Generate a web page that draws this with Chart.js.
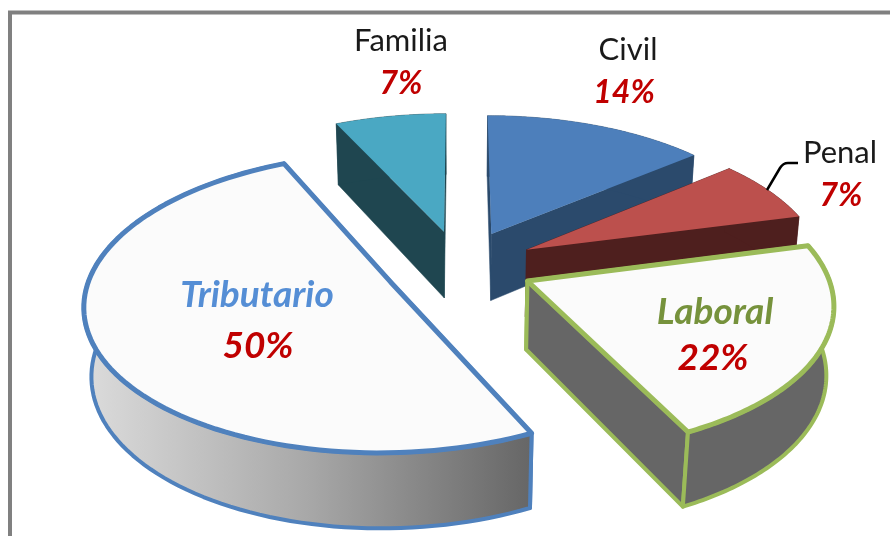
<!DOCTYPE html>
<html><head><meta charset="utf-8">
<style>html,body{margin:0;padding:0;background:#fff}canvas{display:block}</style>
<script src="https://cdn.jsdelivr.net/npm/chart.js@4"></script>
</head><body><canvas id="c" width="890" height="536"></canvas>
<script>
const categories = ['Familia','Civil','Penal','Laboral','Tributario'];
const values = [7,14,7,21.8,50.2];
const percentLabels = ['7%','14%','7%','22%','50%'];
const topColors = ['#4aa8c3','#4d7fbb','#bc504d','#fbfbfb','#fbfbfb'];
const sideColors = ['#1f4650','#2b4a6c','#4e1f1e','#666666',null];
const borderColors = ['transparent','transparent','transparent','#9bbb59','#4f81bd'];
const borderWidths = [0,0,0,5,5];
const nameColors = ['#1a1a1a','#1a1a1a','#1a1a1a','#76923c','#558ed5'];

// view of the 3D pie
const view = {cx:460, cy:266, f:1907, D:6.406, tilt:28.66*Math.PI/180, depth:0.265};
const sinT = Math.sin(view.tilt), cosT = Math.cos(view.tilt);
function project(X,Y,Z){
  const yc = Y*sinT + Z*cosT, zc = view.D + Y*cosT - Z*sinT;
  return [view.cx + view.f*X/zc, view.cy - view.f*yc/zc];
}
function pathOf(ctx,pts,close){
  ctx.beginPath();
  pts.forEach((p,i)=> i ? ctx.lineTo(p[0],p[1]) : ctx.moveTo(p[0],p[1]));
  if(close) ctx.closePath();
}
let activeChart = null;
// every arc of the pie is drawn from its own Chart.js geometry, seen through the view
Chart.ArcElement.prototype.draw = function(ctx){
  const {startAngle,endAngle,outerRadius} = this.getProps(['startAngle','endAngle','outerRadius']);
  const o = this.options, R = outerRadius;
  const i = activeChart.getDatasetMeta(0).data.indexOf(this);
  const mid = (startAngle+endAngle)/2;
  const ox = Math.cos(mid)*o.offset/R, oy = -Math.sin(mid)*o.offset/R;
  const steps = 96, top=[], bot=[];
  for(let k=0;k<=steps;k++){
    const a = startAngle+(endAngle-startAngle)*k/steps;
    const X = ox+Math.cos(a), Y = oy-Math.sin(a);
    top.push(project(X,Y,0)); bot.push(project(X,Y,-view.depth));
  }
  const t0 = project(ox,oy,0), b0 = project(ox,oy,-view.depth);
  const bw = o.borderWidth;
  let side = sideColors[i];
  if(!side){
    const xs = top.concat(bot).map(p=>p[0]);
    const g = ctx.createLinearGradient(Math.min(...xs),0,top[0][0],0);
    g.addColorStop(0,'#dcdcdc'); g.addColorStop(0.5,'#a8a8a8'); g.addColorStop(1,'#666666');
    side = g;
  }
  ctx.save();
  ctx.lineJoin='round';
  const face = (pts)=>{
    pathOf(ctx,pts,true);
    ctx.fillStyle=side; ctx.fill();
    if(bw){ctx.strokeStyle=o.borderColor; ctx.lineWidth=bw*0.8; ctx.stroke();}
    else {ctx.strokeStyle=side; ctx.lineWidth=0.5; ctx.stroke();}
  };
  face([t0,top[0],bot[0],b0]);
  face([t0,top[steps],bot[steps],b0]);
  face(top.concat(bot.slice().reverse()));
  pathOf(ctx,[t0].concat(top),true);
  ctx.fillStyle=o.backgroundColor; ctx.fill();
  if(bw){ctx.strokeStyle=o.borderColor; ctx.lineWidth=bw; ctx.stroke();}
  ctx.restore();
};

const framePlugin = {
  id:'frame',
  beforeDraw(c){
    activeChart = c;
    const ctx=c.ctx;
    ctx.save(); ctx.strokeStyle='#808080'; ctx.lineWidth=4;
    ctx.strokeRect(10,12.5,1000,1000); ctx.restore();
  }
};
// label layout: [name x, name y, percent x, percent y]
const labelSpots = [[401,41,401,84],[628,50,624,93],[840,153,841,196],[715,312,713,358],[257,295,258,346]];
const inside = [false,false,false,true,true];
const labelPlugin = {
  id:'texts',
  afterDraw(c){
    const ctx=c.ctx;
    ctx.save();
    ctx.textAlign='center'; ctx.textBaseline='middle';
    ctx.strokeStyle='#000'; ctx.lineWidth=2.5;
    ctx.beginPath(); ctx.moveTo(767,190); ctx.lineTo(780,168); ctx.quadraticCurveTo(783,163,788,163); ctx.lineTo(798,163); ctx.stroke();
    categories.forEach((name,i)=>{
      const s=labelSpots[i];
      ctx.fillStyle=nameColors[i];
      ctx.font=(inside[i]?'italic bold 37px':'31px')+' Lato';
      ctx.fillText(name,s[0],s[1]);
      ctx.fillStyle='#c00000';
      ctx.font='italic bold '+(inside[i]?37:32)+'px Lato';
      ctx.fillText(percentLabels[i],s[2],s[3]);
    });
    ctx.restore();
  }
};
new Chart(document.getElementById('c'),{
  type:'pie',
  data:{labels:categories,datasets:[{data:values,backgroundColor:topColors,borderColor:borderColors,borderWidth:borderWidths,offset:[60,60,60,58,60]}]},
  options:{responsive:false,animation:false,rotation:-25.2,
    plugins:{legend:{display:false},tooltip:{enabled:false}}},
  plugins:[framePlugin,labelPlugin]
});
</script></body></html>
